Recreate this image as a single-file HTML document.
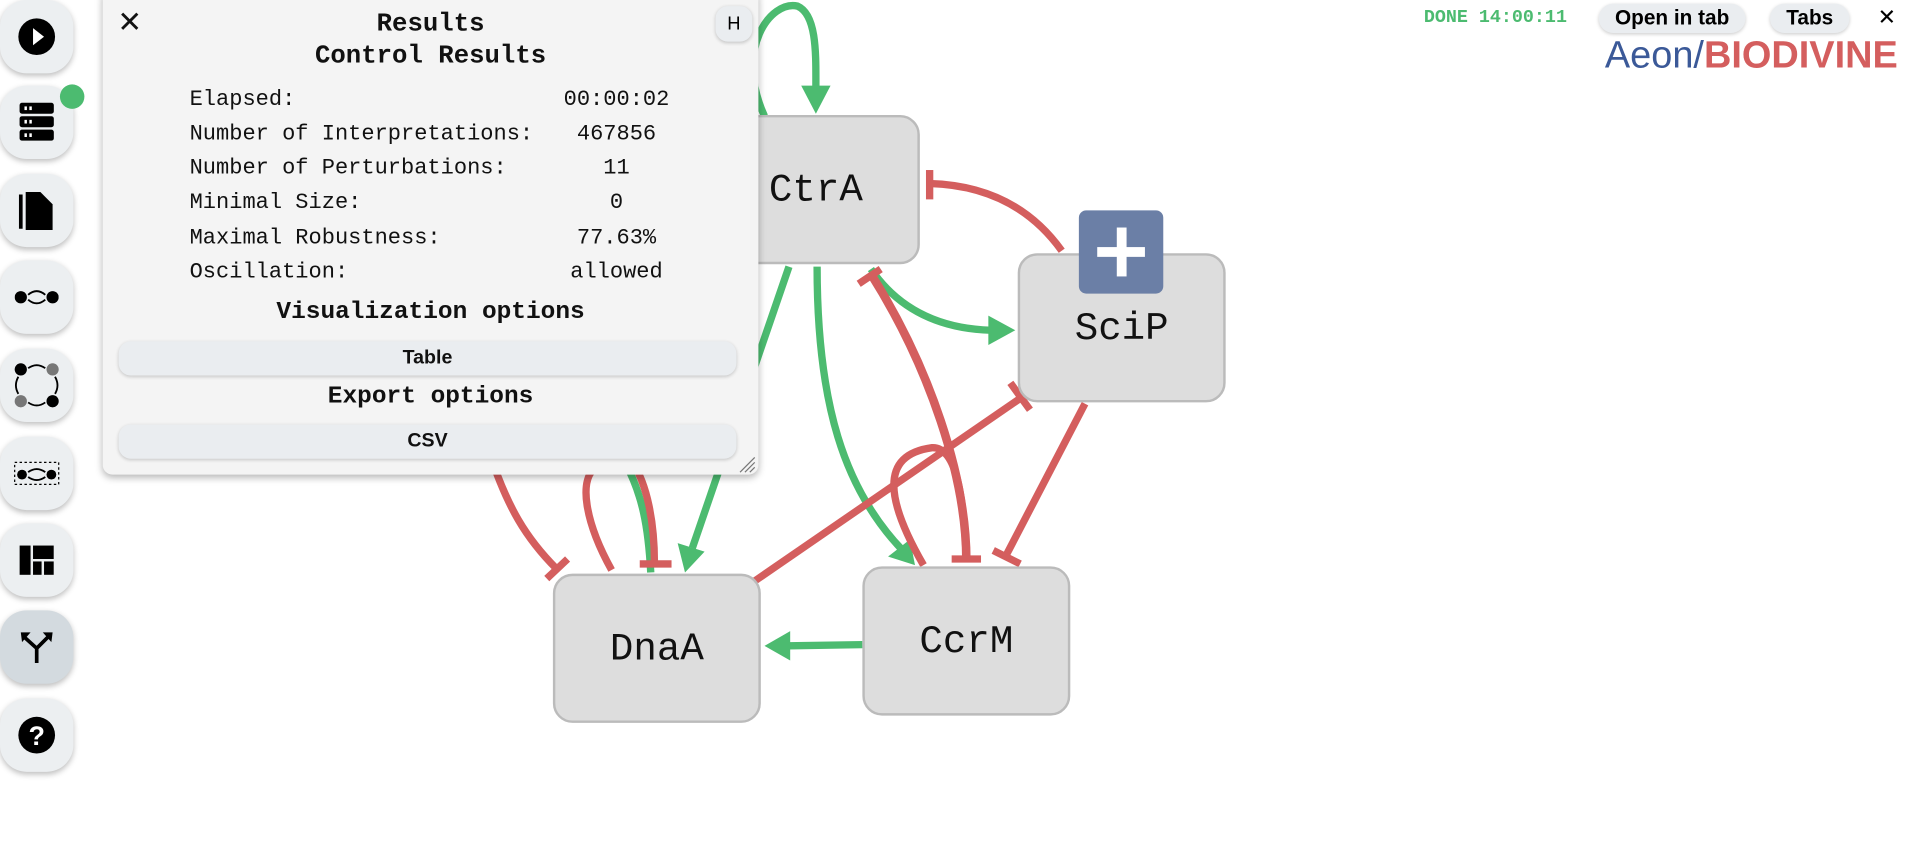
<!DOCTYPE html>
<html><head><meta charset="utf-8"><style>
html,body{margin:0;padding:0;background:#fff;width:1918px;height:867px;overflow:hidden}
#w{position:absolute;left:0;top:0;width:1568px;height:709px;transform:scale(1.22321);transform-origin:0 0;font-family:"Liberation Mono",monospace}
.btn{position:absolute;left:0;width:60px;height:60px;border-radius:22px;background:#eceff1;box-shadow:0 2px 5px rgba(0,0,0,.25);display:flex;align-items:center;justify-content:center}
.node{position:absolute;width:170px;height:122px;background:#dddddd;border:2px solid #bbb;border-radius:16px;box-sizing:border-box;display:flex;align-items:center;justify-content:center;font-size:32px;color:#111}
#panel{position:absolute;left:84px;top:-10px;width:536px;height:398px;background:#f4f4f4;border-radius:8px;box-shadow:0 2px 6px rgba(0,0,0,.3)}
.t{position:absolute;width:536px;text-align:center;color:#111}
.row{position:absolute;left:71px;font-size:18px;color:#111}
.val{position:absolute;left:360px;width:120px;text-align:center;font-size:18px;color:#111}
.pb{position:absolute;left:13px;width:505px;height:28px;border-radius:10px;background:#eaedf0;box-shadow:0 1px 3px rgba(0,0,0,.2);font-family:"Liberation Sans",sans-serif;font-weight:bold;font-size:16px;text-align:center;line-height:28px;color:#111}
.tb{position:absolute;top:3px;height:24px;border-radius:12px;background:#eaedf0;box-shadow:0 1px 3px rgba(0,0,0,.2);font-family:"Liberation Sans",sans-serif;font-weight:bold;font-size:17px;line-height:24px;text-align:center;color:#000}
</style></head><body><div id="w">
<svg style="position:absolute;left:0;top:0" width="1568" height="709">
<g fill="none" stroke-width="6">
<path d="M625 95 C600 40 630 0 652 5 C668 12 667 45 667 72" stroke="#4cbb70"/>
<polygon points="655,70 679,70 667,93" fill="#4cbb70"/>
<path d="M712 220 Q745 268 810 270" stroke="#4cbb70"/>
<polygon points="808,258 808,282 830,270" fill="#4cbb70"/>
<path d="M668 218 C668 330 690 400 738 450" stroke="#4cbb70"/>
<polygon points="726,455 744,441 748,462" fill="#4cbb70"/>
<path d="M645 218 L566 448" stroke="#4cbb70"/>
<polygon points="554,444 576,451 560,468" fill="#4cbb70"/>
<path d="M705 527 L645 528" stroke="#4cbb70"/>
<polygon points="646,516 646,540 625,528" fill="#4cbb70"/>
<path d="M512 380 C525 405 530 430 532 468" stroke="#4cbb70"/>
<path d="M868 205 Q830 152 760 150" stroke="#d45e5e"/>
<path d="M760 139 L760 163" stroke="#d45e5e"/>
<path d="M712 224 C760 300 790 390 790 458" stroke="#d45e5e" stroke-width="7"/>
<path d="M778 457 L802 457" stroke="#d45e5e"/>
<path d="M702 232 L720 220" stroke="#d45e5e"/>
<path d="M755 462 C725 410 718 372 762 366 C785 365 788 420 790 455" stroke="#d45e5e"/>
<path d="M887 330 L822 455" stroke="#d45e5e"/>
<path d="M812 450 L834 461" stroke="#d45e5e"/>
<path d="M617 475 L835 325" stroke="#d45e5e"/>
<path d="M826 313 L842 335" stroke="#d45e5e"/>
<path d="M400 370 C415 415 430 440 455 465" stroke="#d45e5e"/>
<path d="M447 473 L464 457" stroke="#d45e5e"/>
<path d="M500 466 C480 430 470 390 490 380" stroke="#d45e5e"/>
<path d="M515 375 C530 395 535 430 535 460" stroke="#d45e5e"/>
<path d="M523 461 L549 461" stroke="#d45e5e"/>
</g></svg>
<div class="node" style="left:582px;top:94px">CtrA</div>
<div class="node" style="left:832px;top:207px">SciP</div>
<div class="node" style="left:452px;top:469px">DnaA</div>
<div class="node" style="left:705px;top:463px">CcrM</div>
<div style="position:absolute;left:882px;top:172px;width:69px;height:68px;background:#6b7fa6;border-radius:6px"><div style="position:absolute;left:15px;top:30px;width:39px;height:8px;background:#fff"></div><div style="position:absolute;left:31px;top:14px;width:8px;height:40px;background:#fff"></div></div>

<div id="panel">
<div style="position:absolute;left:12px;top:14px;font-family:'Liberation Sans',sans-serif;font-size:24px;color:#111">✕</div>
<div style="position:absolute;left:501px;top:15px;width:30px;height:29px;border-radius:10px;background:#eaedf0;box-shadow:0 1px 3px rgba(0,0,0,.2);font-family:'Liberation Sans',sans-serif;font-size:15px;text-align:center;line-height:29px">H</div>
<div class="t" style="top:19px;font-size:21px;font-weight:bold">Results</div>
<div class="t" style="top:45px;font-size:21px;font-weight:bold">Control Results</div>
<div class="row" style="top:82px">Elapsed:</div><div class="val" style="top:82px">00:00:02</div>
<div class="row" style="top:110px">Number of Interpretations:</div><div class="val" style="top:110px">467856</div>
<div class="row" style="top:138px">Number of Perturbations:</div><div class="val" style="top:138px">11</div>
<div class="row" style="top:166px">Minimal Size:</div><div class="val" style="top:166px">0</div>
<div class="row" style="top:195px">Maximal Robustness:</div><div class="val" style="top:195px">77.63%</div>
<div class="row" style="top:223px">Oscillation:</div><div class="val" style="top:223px">allowed</div>
<div class="t" style="top:254px;font-size:20px;font-weight:bold">Visualization options</div>
<div class="pb" style="top:289px">Table</div>
<div class="t" style="top:323px;font-size:20px;font-weight:bold">Export options</div>
<div class="pb" style="top:357px">CSV</div>
<svg style="position:absolute;left:520px;top:383px" width="14" height="14"><g stroke="#777" stroke-width="1"><path d="M13 1 L1 13 M13 5 L5 13 M13 9 L9 13"/></g></svg>
</div>

<div class="btn" style="top:0"><svg width="32" height="32"><circle cx="16" cy="16" r="15" fill="#000"/><polygon points="13,9 13,23 22,16" fill="#fff"/></svg></div>
<div class="btn" style="top:70px"><svg width="30" height="34"><rect x="1" y="1" width="28" height="9" rx="2" fill="#000"/><rect x="1" y="12" width="28" height="9" rx="2" fill="#000"/><rect x="1" y="23" width="28" height="9" rx="2" fill="#000"/><g fill="#fff"><rect x="5" y="4" width="2" height="3"/><rect x="9" y="4" width="2" height="3"/><rect x="5" y="15" width="2" height="3"/><rect x="9" y="15" width="2" height="3"/><rect x="5" y="26" width="2" height="3"/><rect x="9" y="26" width="2" height="3"/></g></svg></div>
<div style="position:absolute;left:49px;top:69px;width:20px;height:20px;border-radius:50%;background:#4cbb70"></div>
<div class="btn" style="top:142px"><svg width="30" height="34"><path d="M2 4 V32" stroke="#000" stroke-width="3" fill="none"/><path d="M6 2 H18 L28 12 V33 H6 Z" fill="#000"/></svg></div>
<div class="btn" style="top:213px"><svg width="36" height="16"><circle cx="5" cy="8" r="5" fill="#000"/><circle cx="31" cy="8" r="5" fill="#000"/><path d="M11 6 Q18 0 25 6 M11 10 Q18 16 25 10" stroke="#000" stroke-width="1.5" fill="none"/></svg></div>
<div class="btn" style="top:285px"><svg width="38" height="38"><circle cx="6" cy="6" r="5" fill="#000"/><circle cx="32" cy="6" r="5" fill="#777"/><circle cx="6" cy="32" r="5" fill="#777"/><circle cx="32" cy="32" r="5" fill="#000"/><g stroke="#000" stroke-width="1.5" fill="none"><path d="M12 5 Q19 0 26 5 M12 33 Q19 38 26 33 M4 12 Q0 19 4 26 M34 12 Q38 19 34 26"/></g></svg></div>
<div class="btn" style="top:357px"><svg width="38" height="20"><rect x="1" y="1" width="36" height="18" fill="none" stroke="#000" stroke-dasharray="2 2"/><circle cx="7" cy="11" r="4" fill="#000"/><circle cx="31" cy="11" r="4" fill="#000"/><path d="M12 9 Q19 4 26 9 M12 13 Q19 18 26 13" stroke="#000" stroke-width="1.5" fill="none"/></svg></div>
<div class="btn" style="top:428px"><svg width="28" height="24"><rect x="0" y="0" width="9" height="24" fill="#000"/><rect x="11" y="0" width="17" height="11" fill="#000"/><rect x="11" y="13" width="7" height="11" fill="#000"/><rect x="20" y="13" width="8" height="11" fill="#000"/></svg></div>
<div class="btn" style="top:499px;background:#d3dadf"><svg width="28" height="28"><g stroke="#000" stroke-width="3" fill="none"><path d="M14 27 V15 L4 6 M14 15 L23 6"/></g><polygon points="1,2 9,2 2,10" fill="#000"/><polygon points="27,2 19,2 26,10" fill="#000"/></svg></div>
<div class="btn" style="top:571px"><svg width="32" height="32"><circle cx="16" cy="16" r="15" fill="#000"/><text x="16" y="24" text-anchor="middle" font-family="Liberation Sans" font-weight="bold" font-size="22" fill="#fff">?</text></svg></div>

<div style="position:absolute;left:1164px;top:6px;font-size:15px;font-weight:bold;color:#4cbb70">DONE 14:00:11</div>
<div class="tb" style="left:1307px;width:120px">Open in tab</div>
<div class="tb" style="left:1447px;width:65px">Tabs</div>
<div style="position:absolute;left:1535px;top:4px;font-family:'Liberation Sans',sans-serif;font-size:18px">✕</div>
<div style="position:absolute;left:1312px;top:27px;font-family:'Liberation Sans',sans-serif;font-size:31px;white-space:nowrap"><span style="color:#3b5998">Aeon/</span><span style="color:#d45e5e;font-weight:bold">BIODIVINE</span></div>
</div></body></html>
